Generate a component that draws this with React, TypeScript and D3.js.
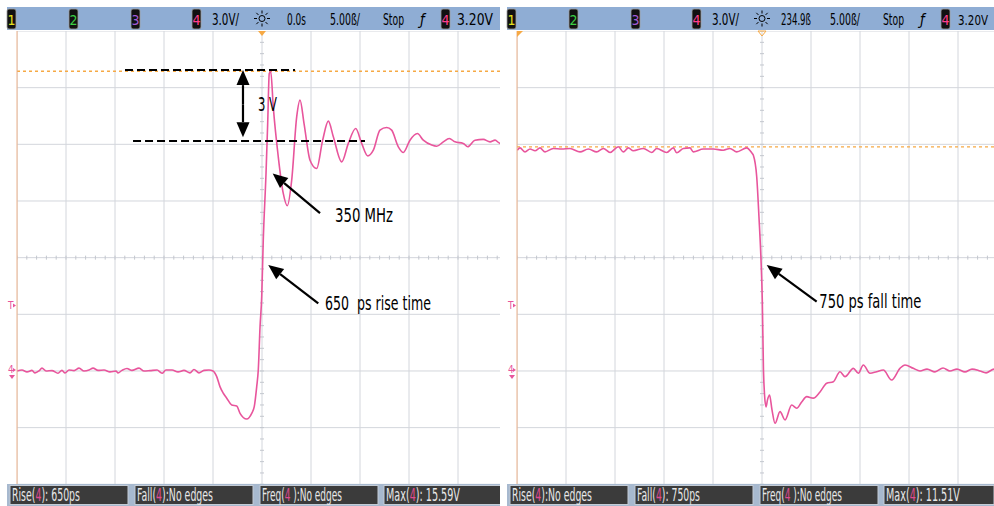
import React, { useEffect, useRef } from 'react';
import * as d3 from 'd3';

// rising edge capture: [time ns, volts]
const riseFlat = [
  [-25.0, 0], [-24.49, 0.05], [-23.98, -0.05], [-23.47, 0.03], [-23.16, -0.1], [-22.76, 0.0],
  [-22.45, 0.15], [-22.04, 0.0], [-21.43, 0.02], [-20.82, -0.12], [-20.41, 0.03], [-20.1, -0.1],
  [-19.69, 0.05], [-19.18, 0.02], [-18.67, 0.15], [-18.16, 0.0], [-17.65, 0.05], [-17.24, 0.15],
  [-16.73, 0.03], [-16.12, 0.05], [-15.51, -0.05], [-14.9, 0.0], [-14.69, -0.1], [-14.29, 0.03],
  [-13.78, 0.13], [-13.27, 0.03], [-12.55, 0.15], [-12.04, 0.0], [-11.43, 0.02], [-10.71, 0.05],
  [-10.2, -0.12], [-9.8, 0.05], [-9.18, 0.05], [-8.57, -0.05], [-7.96, 0.03], [-7.35, -0.1],
  [-6.94, 0.08], [-6.43, -0.1], [-5.92, 0.03], [-5.41, 0.05], [-5.0, 0.0],
];
const riseEdge = [
  [-4.62, -0.3], [-4.29, -0.83], [-3.95, -1.18], [-3.6, -1.44], [-3.09, -1.8], [-2.58, -1.85],
  [-2.24, -2.24], [-1.56, -2.54], [-1.05, -2.24], [-0.79, -1.89], [-0.54, -0.83], [-0.38, 0.05],
  [-0.2, 2.34], [-0.03, 3.93], [0.13, 6.93], [0.41, 10.46], [0.58, 13.1], [0.74, 15.75], [0.89, 15.87],
];
const riseRinging = [
  [1.15, 13.98], [1.66, 11.34], [2.17, 9.4], [2.58, 8.75], [3.03, 10.1], [3.54, 13.45], [3.88, 14.34],
  [4.29, 13.1], [4.9, 11.16], [5.58, 10.72], [6.19, 12.22], [6.77, 13.23], [7.28, 12.4], [8.13, 11.07],
  [8.81, 12.05], [9.56, 12.84], [10.17, 12.05], [10.79, 11.39], [11.36, 11.69], [12.04, 12.75],
  [12.72, 12.89], [13.23, 12.75], [13.91, 11.87], [14.42, 11.57], [15.1, 12.22], [15.85, 12.57],
  [16.46, 12.22], [17.32, 11.96], [17.83, 11.9], [18.5, 12.13], [19.11, 12.31], [19.69, 12.13],
  [20.54, 12.05], [20.99, 11.87], [21.73, 12.22], [22.58, 12.26], [23.27, 12.13], [23.78, 12.22],
  [24.29, 12.05], [24.8, 12.05],
];

// falling edge capture: [time ns, volts]
const fallFlat = [
  [209.93, 11.69], [210.21, 11.81], [210.72, 11.6], [211.23, 11.75], [211.74, 11.66], [212.25, 11.81],
  [212.76, 11.6], [213.6, 11.78], [214.46, 11.75], [215.31, 11.78], [216.33, 11.6], [217.18, 11.75],
  [218.03, 11.6], [218.71, 11.78], [219.39, 11.57], [220.24, 11.87], [220.75, 11.6], [221.26, 11.81],
  [221.77, 11.66], [222.79, 11.78], [223.65, 11.57], [224.16, 11.78], [225.18, 11.57], [225.85, 11.81],
  [226.2, 11.55], [226.87, 11.78], [227.55, 11.81], [227.89, 11.6], [228.91, 11.75], [229.93, 11.75],
  [230.95, 11.69], [231.63, 11.78], [232.32, 11.6], [233.34, 11.81], [233.85, 11.55],
];
const fallEdge = [
  [234.01, 11.43], [234.36, 10.28], [234.59, 8.16], [234.8, 5.87], [234.93, 3.76], [235.05, 0.05],
  [235.16, -1.27], [235.31, -1.9], [235.46, -1.53], [235.67, -1.27], [235.92, -2.06], [236.23, -2.77],
  [236.74, -2.15], [237.25, -2.59], [237.93, -1.8],
];
const fallSettle = [
  [238.44, -1.97], [238.95, -1.64], [239.46, -1.36], [240.13, -1.44], [240.82, -1.11], [241.5, -0.65],
  [242.18, -0.57], [242.86, -0.04], [243.37, -0.3], [244.22, 0.14], [244.73, -0.12], [245.24, 0.32],
  [245.92, -0.12], [246.6, -0.04], [247.28, 0.05], [248.13, -0.48], [248.98, 0.14], [249.49, 0.32],
  [250.34, 0.14], [251.02, 0], [251.74, 0.1], [252.55, -0.05], [253.37, 0.16], [254.08, 0],
  [254.8, 0.1], [255.61, -0.05], [256.33, 0.1], [257.14, 0], [257.76, -0.1], [258.57, 0.1], [259.9, 0],
];

const leftFooter = [
  ['Rise(', '): 650ps'], ['Fall(', '):No edges'], ['Freq(', ' ):No edges'], ['Max(', '): 15.59V'],
];
const rightFooter = [
  ['Rise(', '):No edges'], ['Fall(', '): 750ps'], ['Freq(', ' ):No edges'], ['Max(', '): 11.51V'],
];
// measured text widths in the footer boxes
const leftFooterW = [68, 76, 80, 74];
const rightFooterW = [80, 63, 80, 74];

const FONT = "'Liberation Sans Narrow','DejaVu Sans Condensed','Roboto Condensed',sans-serif";
const PINK = '#e8559c';
const ORANGE = '#f6a945';

const Arrow = ({ x1, y1, x2, y2 }) => {
  const dx = x2 - x1, dy = y2 - y1;
  const len = Math.hypot(dx, dy);
  const ux = dx / len, uy = dy / len;
  const L = 15, w = 6.5;
  const bx = x2 - ux * L, by = y2 - uy * L;
  return (
    <g>
      <line x1={x1} y1={y1} x2={bx} y2={by} stroke="#000" strokeWidth={2.2} />
      <polygon
        points={`${x2},${y2} ${bx - uy * w},${by + ux * w} ${bx + uy * w},${by - ux * w}`}
        fill="#000"
      />
    </g>
  );
};

const ChanBox = ({ x, label, color }) => (
  <g>
    <rect x={x} y={9} width={9} height={20} rx={2} fill="#111" stroke="#a0a0a0" strokeWidth={0.8} />
    <text x={x + 4.5} y={25} textAnchor="middle" fontSize={14} fill={color}>{label}</text>
  </g>
);

// footer reading: label, channel number, value laid out by measuring, then squeezed to width
const Reading = ({ x, parts, width }) => {
  const ref = useRef(null);
  useEffect(() => {
    const g = d3.select(ref.current);
    g.selectAll('*').remove();
    const inner = g.append('g');
    let cx = 0;
    [[parts[0], '#e8e8e8'], ['4', '#e04a90'], [parts[1], '#e8e8e8']].forEach(([s, c]) => {
      const t = inner.append('text')
        .attr('x', cx)
        .attr('y', 0)
        .attr('fill', c)
        .style('white-space', 'pre')
        .text(s);
      cx += t.node().getComputedTextLength();
    });
    inner.attr('transform', `scale(${width / cx},1)`);
  }, [parts, width]);
  return <g ref={ref} transform={`translate(${x},500.5)`} fontSize={17} />;
};

const Panel = ({ x0, right, tCenter, wave, maxV, timeLabel, levelX, levelW, footer, footerW, id, children }) => {
  const x = d3.scaleLinear().domain([tCenter - 25, tCenter + 25]).range([x0 + 17, x0 + 507]);
  const y = d3.scaleLinear().domain([-6, 18]).range([484.3, 31]);
  const line = d3.line().x(d => x(d[0])).y(d => y(d[1])).curve(d3.curveMonotoneX);
  const vGrid = d3.range(-25, 26, 5).map(d => x(tCenter + d));
  const hGrid = d3.range(-6, 19, 3).map(v => y(v));
  const xTicks = d3.range(-25, 25.01, 1).map(d => x(tCenter + d));
  const yTicks = d3.range(-6, 18.01, 0.6).map(v => y(v));
  const cx = x(tCenter), cy = y(6);
  const boxes = [[10, 128], [135, 253], [260, 378], [384, right - x0 - (right < 994 ? 3 : 0)]];
  const ty = 24.5;
  return (
    <g>
      <defs>
        <clipPath id={id}>
          <rect x={x0 + 17} y={31} width={right - x0 - 17} height={453} />
        </clipPath>
      </defs>
      <rect x={x0} y={0} width={right - x0} height={506} fill="#fff" />
      <g clipPath={`url(#${id})`}>
        {vGrid.map((gx, i) => (
          <line key={'v' + i} x1={gx} x2={gx} y1={31} y2={484} stroke="#d3d6dc" strokeWidth={1} />
        ))}
        {hGrid.map((gy, i) => (
          <line key={'h' + i} x1={x0 + 17} x2={x0 + 507} y1={gy} y2={gy} stroke="#d3d6dc" strokeWidth={1} />
        ))}
        {xTicks.map((tx, i) => (
          <line key={'tx' + i} x1={tx} x2={tx} y1={cy - 2} y2={cy + 2} stroke="#c3c7ce" />
        ))}
        {yTicks.map((yy, i) => (
          <line key={'ty' + i} x1={cx - 2} x2={cx + 2} y1={yy} y2={yy} stroke="#c3c7ce" />
        ))}
        <line x1={x0 + 17} x2={x0 + 507} y1={y(maxV)} y2={y(maxV)} stroke={ORANGE} strokeWidth={1.3} strokeDasharray="3,3" />
        <path d={line(wave)} fill="none" stroke={PINK} strokeWidth={1.6} strokeLinejoin="round" />
        {children && children(x, y)}
      </g>
      <line x1={x0 + 17} x2={x0 + 17} y1={31} y2={484} stroke="#eab08a" strokeWidth={1} />
      {/* trigger-time marker */}
      {tCenter === 0 ? (
        <polygon points={`${x(0) - 4},31 ${x(0) + 4},31 ${x(0)},36`} fill={ORANGE} />
      ) : (
        <g>
          <polygon points={`${x0 + 17},31 ${x0 + 23},31 ${x0 + 17},37`} fill={ORANGE} />
          <polygon points={`${cx - 4},31 ${cx + 4},31 ${cx},36`} fill="none" stroke={ORANGE} />
        </g>
      )}
      {/* channel markers in the margin */}
      <text x={x0 + 8} y={y(3.2) - 2} fontSize={10} fill={PINK}>T</text>
      <polygon points={`${x0 + 13},${y(3.2) - 7} ${x0 + 16},${y(3.2) - 5} ${x0 + 13},${y(3.2) - 3}`} fill={PINK} />
      <text x={x0 + 8} y={y(0) + 2} fontSize={10} fill={PINK}>4</text>
      <polygon points={`${x0 + 13},${y(0) - 3} ${x0 + 16},${y(0) - 1} ${x0 + 13},${y(0) + 1}`} fill={PINK} />
      <polygon points={`${x0 + 9},${y(0) + 4} ${x0 + 15},${y(0) + 4} ${x0 + 12},${y(0) + 8}`} fill={PINK} />

      {/* header bar */}
      <rect x={x0 + 7} y={7} width={right - x0 - 7} height={23} fill="#8fadd4" />
      <ChanBox x={x0 + 7} label="1" color="#e6e21c" />
      <ChanBox x={x0 + 69} label="2" color="#3ccf45" />
      <ChanBox x={x0 + 131} label="3" color="#a55bd6" />
      <ChanBox x={x0 + 192} label="4" color="#ff3f8e" />
      <text x={x0 + 212} y={ty} fontSize={16} textLength={27} lengthAdjust="spacingAndGlyphs">3.0V/</text>
      <g stroke="#000" strokeWidth={1}>
        <circle cx={x0 + 262} cy={18.5} r={3} fill="none" />
        {d3.range(8).map(k => {
          const a = (k * Math.PI) / 4;
          return (
            <line key={k} x1={x0 + 262 + Math.cos(a) * 5} y1={18.5 + Math.sin(a) * 5}
              x2={x0 + 262 + Math.cos(a) * 8} y2={18.5 + Math.sin(a) * 8} />
          );
        })}
      </g>
      <text x={x0 + (tCenter === 0 ? 287 : 281)} y={ty} fontSize={16}
        textLength={tCenter === 0 ? 19 : 30} lengthAdjust="spacingAndGlyphs">{timeLabel}</text>
      <text x={x0 + 330} y={ty} fontSize={16} textLength={30} lengthAdjust="spacingAndGlyphs">5.00ß/</text>
      <text x={x0 + 383} y={ty} fontSize={16} textLength={21} lengthAdjust="spacingAndGlyphs">Stop</text>
      <text x={x0 + 420} y={ty} fontSize={15} fontStyle="italic">ƒ</text>
      <ChanBox x={x0 + 441} label="4" color="#ff3f8e" />
      <text x={x0 + levelX} y={ty} fontSize={levelW < 34 ? 14 : 16} textLength={levelW} lengthAdjust="spacingAndGlyphs">3.20V</text>

      {/* measurement footer */}
      <rect x={x0 + 7} y={484} width={right - x0 - 7} height={22} fill="#a7b9cf" />
      {boxes.map(([a, b], i) => (
        <g key={i}>
          <rect x={x0 + a} y={485.5} width={b - a} height={19} fill="#3b3b3b" stroke="#c4ccd6" strokeWidth={1} />
          <Reading x={x0 + a + 2} parts={footer[i]} width={footerW[i]} />
        </g>
      ))}
    </g>
  );
};

export default function App() {
  const riseWave = [...riseFlat, ...riseEdge, ...riseRinging];
  const fallWave = [...fallFlat, ...fallEdge, ...fallSettle];
  return (
    <svg width={994} height={506} fontFamily={FONT}
      style={{ position: 'absolute', left: 0, top: 0, background: '#fff' }}>
      <Panel x0={0} right={506} tCenter={0} wave={riseWave} maxV={15.87} timeLabel="0.0s"
        levelX={457} levelW={36} footer={leftFooter} footerW={leftFooterW} id="clipL">
        {(x, y) => (
          <g fontFamily={FONT} fill="#000">
            <line x1={x(-13.98)} x2={x(3.37)} y1={y(15.93)} y2={y(15.93)} stroke="#000" strokeWidth={2} strokeDasharray="8,4" />
            <line x1={x(-13.16)} x2={x(10.51)} y1={y(12.17)} y2={y(12.17)} stroke="#000" strokeWidth={2} strokeDasharray="8,4" />
            <Arrow x1={x(-1.94)} y1={y(14.1)} x2={x(-1.94)} y2={y(15.93)} />
            <Arrow x1={x(-1.94)} y1={y(14.1)} x2={x(-1.94)} y2={y(12.38)} />
            <text x={x(-0.41)} y={y(13.76)} fontSize={19} textLength={19} lengthAdjust="spacingAndGlyphs">3 V</text>
            <Arrow x1={x(5.92)} y1={y(8.36)} x2={x(1.09)} y2={y(10.46)} />
            <text x={x(7.45)} y={y(7.9)} fontSize={19} textLength={58} lengthAdjust="spacingAndGlyphs">350 MHz</text>
            <Arrow x1={x(5.74)} y1={y(3.58)} x2={x(0.64)} y2={y(5.61)} />
            <text x={x(6.43)} y={y(3.23)} fontSize={19} textLength={106} lengthAdjust="spacingAndGlyphs" xmlSpace="preserve">650  ps rise time</text>
          </g>
        )}
      </Panel>
      <line x1={506} x2={506} y1={30} y2={485} stroke="#4a4f58" strokeWidth={1.2} />
      <Panel x0={500} right={994} tCenter={234.9} wave={fallWave} maxV={11.87} timeLabel="234.9ß"
        levelX={458} levelW={30} footer={rightFooter} footerW={rightFooterW} id="clipR">
        {(x, y) => (
          <g fontFamily={FONT} fill="#000">
            <Arrow x1={x(240.48)} y1={y(3.67)} x2={x(235.38)} y2={y(5.61)} />
            <text x={x(240.75)} y={y(3.32)} fontSize={19} textLength={102} lengthAdjust="spacingAndGlyphs">750 ps fall time</text>
          </g>
        )}
      </Panel>
    </svg>
  );
}
